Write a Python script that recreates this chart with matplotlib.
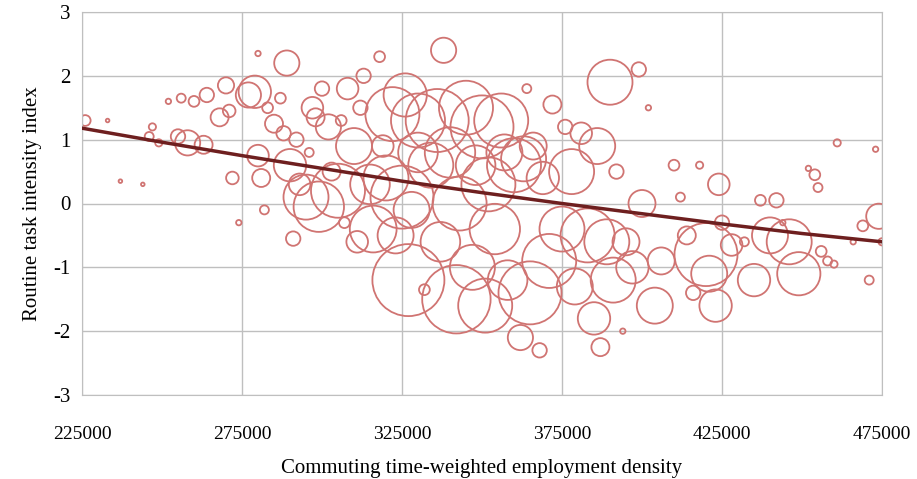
import matplotlib
matplotlib.use("Agg")
import matplotlib.pyplot as plt

bx = [226,233,237,244,246,247,249,252,255,256,258,260,263,264,268,270,271,272,274,277,279,280,280,281,282,283,285,287,288,289,290,291,292,293,295,296,297,298,299,300,302,303,305,306,307,308,310,311,312,313,315,316,318,319,320,322,323,325,326,327,328,330,330,332,334,336,337,338,340,342,343,345,347,348,350,351,352,354,356,357,358,360,362,363,364,365,366,368,369,371,372,375,376,378,379,381,383,385,386,387,389,390,391,392,394,395,397,399,400,402,404,406,410,412,414,416,418,420,421,423,424,425,428,432,435,437,440,442,444,446,449,452,454,455,456,458,460,461,466,469,471,473,474,475]
by = [1.3,1.3,0.35,0.3,1.05,1.2,0.95,1.6,1.05,1.65,0.95,1.6,0.92,1.7,1.35,1.85,1.45,0.4,-0.3,1.7,1.75,2.35,0.75,0.4,-0.1,1.5,1.25,1.65,1.1,2.2,0.6,-0.55,1.0,0.3,0.1,0.8,1.5,1.35,-0.05,1.8,1.2,0.5,0.2,1.3,-0.3,1.8,0.9,-0.6,1.5,2.0,0.3,-0.4,2.3,0.9,0.4,1.4,-0.5,0.1,1.7,-1.2,-0.1,0.8,1.3,-1.35,0.6,1.3,-0.6,2.4,0.8,-1.5,0.0,1.5,-1.0,0.6,1.2,-1.6,0.3,-0.4,1.3,0.8,-1.2,0.6,-2.1,0.7,1.8,-1.4,0.9,-2.3,0.4,-0.9,1.55,-0.4,1.2,0.5,-1.3,1.1,-0.5,-1.8,0.9,-2.25,-0.6,1.9,-1.2,0.5,-2.0,-0.6,-1.0,2.1,0.0,1.5,-1.6,-0.9,0.6,0.1,-0.5,-1.4,0.6,-0.8,-1.1,-1.6,0.3,-0.3,-0.65,-0.6,-1.2,0.05,-0.5,0.05,-0.3,-0.6,-1.1,0.55,0.45,0.25,-0.75,-0.9,-0.95,0.95,-0.6,-0.35,-1.2,0.85,-0.2,-0.6]
br = [6,2,2,2,5,4,4,3,8,5,14,6,10,8,10,9,7,7,3,14,18,3,12,10,5,6,10,6,8,14,18,8,8,12,25,5,12,10,28,8,14,10,30,6,6,12,20,12,8,8,22,26,6,12,25,30,20,35,24,40,20,22,30,6,25,35,22,14,28,38,30,30,25,22,35,30,30,28,30,20,22,30,14,25,5,35,15,8,18,30,10,25,8,25,20,12,30,18,20,10,25,25,25,8,3,15,18,8,15,3,20,15,6,5,10,8,4,35,20,18,12,8,12,5,18,6,20,8,3,25,24,3,6,5,6,5,4,4,3,6,5,3,14,4]

trend_x = [225000,250000,275000,300000,325000,350000,375000,400000,425000,450000,475000]
trend_y = [1.18,0.96,0.75,0.55,0.35,0.17,0.0,-0.16,-0.32,-0.47,-0.6]

plt.rcParams['font.family'] = ['Liberation Serif', 'DejaVu Serif']
plt.rcParams['axes.unicode_minus'] = False
fig = plt.figure(figsize=(9.17,4.79), dpi=100)
ax = fig.add_axes([82/917, 84/479, 800/917, 383/479])
s = [(2*r*0.72*0.9)**2 for r in br]
ax.scatter([x*1000 for x in bx], by, s=s, facecolors='none', edgecolors='#D07472', linewidths=1.3, zorder=2)
ax.plot(trend_x, trend_y, color='#6E1F1F', lw=2.5, zorder=3)
ax.set_xlim(225000, 475000)
ax.set_ylim(-3, 3)
ax.set_xticks(range(225000, 475001, 50000))
ax.set_yticks(range(-3, 4))
ax.grid(True, color='#BFBFBF', lw=1, zorder=0)
ax.set_axisbelow(True)
for sp in ax.spines.values():
    sp.set_color('#BFBFBF')
ax.tick_params(length=0, labelsize=15, pad=8)
ax.tick_params(axis='x', pad=22, labelsize=14)
ax.set_xlabel('Commuting time-weighted employment density', fontsize=15, labelpad=12)
ax.set_ylabel('Routine task intensity index', fontsize=15, labelpad=8)
fig.savefig('out.png', dpi=100)
